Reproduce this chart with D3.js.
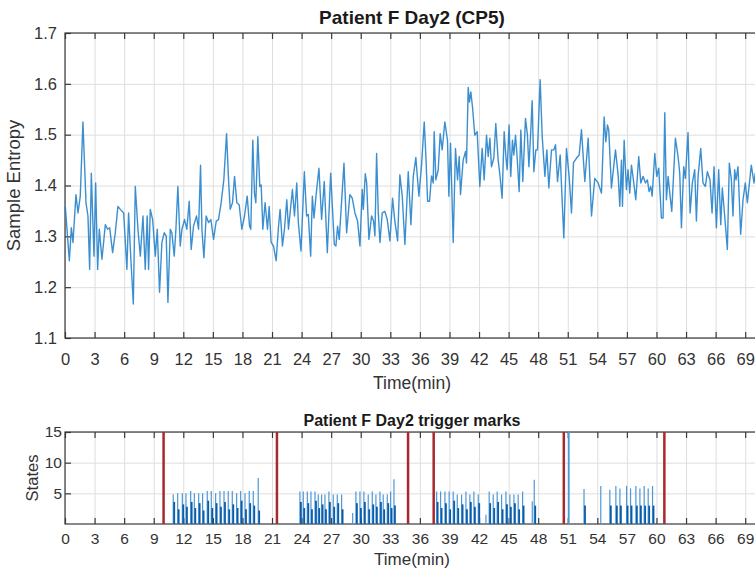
<!DOCTYPE html>
<html>
<head>
<meta charset="utf-8">
<script src="https://cdn.jsdelivr.net/npm/d3@7"></script>
<style>
  body { margin: 0; background: #fff; }
  text { font-family: "Liberation Sans", Arial, sans-serif; fill: #333; }
  .title { font-weight: bold; fill: #1a1a1a; }
  .grid line { stroke: #dedede; stroke-width: 1; }
  .grid .domain { display: none; }
  .axis .domain { display: none; }
  .axis line { stroke: #3a3a3a; stroke-width: 1.2; }
</style>
</head>
<body>
<div id="chart"></div>
<script>
// ---- data ----
const timeTicks = [0, 3, 6, 9, 12, 15, 18, 21, 24, 27, 30, 33, 36, 39, 42, 45, 48, 51, 54, 57, 60, 63, 66, 69]
const entropyTicks = [1.1, 1.2, 1.3, 1.4, 1.5, 1.6, 1.7]
const stateTicks = [5, 10, 15]

// [minute, sample entropy]
const sampleEntropy = [
  [0.03,1.359],[0.44,1.252],[0.64,1.317],[0.81,1.288],[1.11,1.382],[1.32,1.346],[1.55,1.379],[1.82,1.525],
  [2.13,1.366],[2.33,1.340],[2.50,1.235],[2.67,1.424],[2.94,1.261],[3.11,1.405],[3.31,1.235],[3.48,1.314],
  [3.75,1.255],[4.09,1.323],[4.32,1.314],[4.53,1.317],[4.83,1.268],[5.10,1.307],[5.37,1.359],[5.61,1.353],
  [5.95,1.346],[6.28,1.235],[6.45,1.346],[6.69,1.252],[6.93,1.167],[7.13,1.398],[7.40,1.314],[7.64,1.261],
  [7.91,1.340],[8.14,1.235],[8.34,1.340],[8.48,1.235],[8.65,1.353],[8.89,1.333],[9.16,1.261],[9.36,1.314],
  [9.59,1.190],[9.83,1.288],[10.07,1.307],[10.27,1.301],[10.44,1.170],[10.68,1.314],[10.84,1.307],[11.08,1.261],
  [11.25,1.314],[11.45,1.398],[11.69,1.281],[11.86,1.314],[12.13,1.333],[12.36,1.314],[12.60,1.369],[12.80,1.274],
  [13.04,1.320],[13.34,1.340],[13.55,1.314],[13.75,1.440],[13.89,1.314],[14.09,1.258],[14.32,1.340],[14.56,1.327],
  [14.80,1.333],[15.07,1.294],[15.34,1.330],[15.57,1.333],[15.84,1.366],[16.11,1.411],[16.39,1.502],[16.59,1.411],
  [16.76,1.353],[16.99,1.366],[17.20,1.418],[17.43,1.366],[17.67,1.362],[17.94,1.314],[18.21,1.340],[18.48,1.379],
  [18.72,1.320],[18.85,1.314],[19.05,1.489],[19.22,1.385],[19.36,1.366],[19.56,1.496],[19.76,1.398],[19.90,1.401],
  [20.07,1.314],[20.30,1.366],[20.54,1.314],[20.71,1.359],[20.91,1.288],[21.15,1.281],[21.42,1.252],[21.66,1.320],
  [21.82,1.353],[22.06,1.281],[22.26,1.314],[22.50,1.372],[22.67,1.314],[22.87,1.353],[23.07,1.392],[23.28,1.340],
  [23.51,1.405],[23.67,1.327],[23.94,1.271],[24.28,1.427],[24.51,1.340],[24.68,1.343],[24.92,1.261],[25.09,1.379],
  [25.26,1.336],[25.46,1.379],[25.76,1.434],[26.03,1.333],[26.30,1.408],[26.61,1.268],[26.95,1.424],[27.32,1.284],
  [27.48,1.281],[27.65,1.320],[27.82,1.294],[28.30,1.444],[28.57,1.307],[28.90,1.382],[29.14,1.375],[29.41,1.346],
  [29.68,1.330],[29.92,1.281],[30.15,1.392],[30.26,1.353],[30.46,1.423],[30.60,1.405],[30.83,1.294],[31.10,1.340],
  [31.30,1.330],[31.44,1.301],[31.61,1.463],[31.78,1.346],[31.95,1.288],[32.18,1.346],[32.45,1.349],[32.69,1.333],
  [32.96,1.291],[33.23,1.375],[33.46,1.330],[33.74,1.291],[33.97,1.421],[34.21,1.379],[34.48,1.284],[34.82,1.427],
  [35.09,1.323],[35.33,1.418],[35.59,1.455],[35.90,1.379],[36.17,1.440],[36.44,1.525],[36.61,1.457],[36.78,1.369],
  [36.98,1.369],[37.18,1.419],[37.35,1.405],[37.45,1.506],[37.62,1.411],[37.86,1.431],[38.06,1.502],[38.26,1.470],
  [38.53,1.525],[38.80,1.489],[38.94,1.379],[39.11,1.483],[39.38,1.288],[39.61,1.473],[39.82,1.411],[39.99,1.457],
  [40.12,1.382],[40.39,1.450],[40.63,1.467],[40.73,1.444],[40.90,1.593],[41.03,1.564],[41.17,1.584],[41.34,1.554],
  [41.57,1.499],[41.81,1.506],[42.08,1.398],[42.32,1.473],[42.52,1.411],[42.76,1.499],[42.93,1.457],[43.10,1.493],
  [43.26,1.437],[43.50,1.454],[43.70,1.522],[43.94,1.450],[44.10,1.424],[44.34,1.375],[44.55,1.506],[44.72,1.457],
  [44.85,1.431],[45.05,1.519],[45.22,1.418],[45.39,1.489],[45.53,1.460],[45.70,1.499],[45.86,1.457],[46.07,1.388],
  [46.24,1.509],[46.44,1.408],[46.71,1.532],[46.91,1.499],[47.06,1.437],[47.22,1.496],[47.39,1.567],[47.56,1.427],
  [47.76,1.470],[47.93,1.470],[48.20,1.608],[48.41,1.496],[48.68,1.418],[48.88,1.470],[49.08,1.395],[49.35,1.470],
  [49.59,1.470],[49.76,1.480],[49.96,1.408],[50.23,1.460],[50.60,1.297],[50.87,1.473],[51.14,1.418],[51.38,1.346],
  [51.58,1.445],[51.89,1.454],[52.16,1.460],[52.39,1.510],[52.73,1.408],[53.07,1.493],[53.41,1.340],[53.74,1.414],
  [54.08,1.405],[54.42,1.385],[54.69,1.535],[54.86,1.486],[55.03,1.519],[55.16,1.509],[55.43,1.395],[55.84,1.470],
  [56.11,1.421],[56.28,1.359],[56.45,1.450],[56.55,1.359],[56.72,1.489],[56.95,1.392],[57.12,1.431],[57.29,1.385],
  [57.46,1.440],[57.66,1.411],[57.90,1.372],[58.20,1.457],[58.41,1.405],[58.64,1.418],[58.88,1.405],[59.08,1.411],
  [59.25,1.388],[59.42,1.398],[59.56,1.379],[59.83,1.463],[60.03,1.418],[60.23,1.434],[60.50,1.336],[60.67,1.336],
  [60.84,1.543],[61.01,1.372],[61.18,1.418],[61.35,1.385],[61.55,1.349],[61.92,1.493],[62.19,1.457],[62.36,1.424],
  [62.53,1.317],[62.76,1.437],[62.93,1.414],[63.20,1.504],[63.41,1.346],[63.64,1.405],[63.88,1.431],[64.05,1.330],
  [64.22,1.418],[64.49,1.473],[64.72,1.405],[64.96,1.398],[65.16,1.427],[65.43,1.411],[65.64,1.346],[65.84,1.437],
  [66.08,1.317],[66.31,1.431],[66.52,1.323],[66.68,1.395],[66.92,1.340],[67.19,1.274],[67.39,1.444],[67.60,1.411],
  [67.76,1.340],[67.93,1.431],[68.07,1.411],[68.27,1.437],[68.54,1.304],[68.78,1.372],[69.01,1.405],[69.22,1.366],
  [69.39,1.398],[69.62,1.440],[69.89,1.405],[70.02,1.424],[70.25,1.430]
]

// trigger marks (minutes)
const triggerTimes = [10.0, 21.5, 34.8, 37.4, 50.6, 60.8]

// state spikes: time, peak state, dense lower level
const stateTimes = [
  10.98, 11.43, 11.90, 12.27, 12.75, 13.12, 13.56, 13.96, 14.43, 14.84, 15.28, 15.72, 16.13, 16.56, 16.97, 17.41, 17.82, 18.26, 18.69, 19.10, 19.60,
  23.83, 24.17, 24.58, 24.95, 25.36, 25.69, 26.03, 26.37, 26.77, 27.21, 27.62, 28.06,
  29.18, 29.51, 29.92, 30.32, 30.76, 31.17, 31.54, 31.95, 32.28, 32.69, 33.03, 33.37,
  37.70, 38.10, 38.54, 38.97, 39.38, 39.79, 40.23, 40.67, 41.07, 41.48, 41.92, 42.70, 43.03, 43.44, 43.84, 44.29, 44.73, 45.13, 45.54, 45.97, 46.42,
  47.40, 47.60,
  51.10,
  52.65, 54.35, 55.27, 55.88, 56.29, 56.97, 57.37, 57.91, 58.32, 58.75, 59.16, 59.60
]
const statePeaks = [
  4.8, 5.0, 5.0, 5.0, 5.4, 5.0, 5.0, 5.0, 5.4, 5.4, 5.0, 5.4, 5.4, 5.4, 5.4, 5.0, 5.4, 5.0, 5.4, 5.4, 7.5,
  5.3, 5.3, 5.3, 5.3, 5.3, 4.8, 4.8, 4.8, 5.3, 4.8, 4.8, 4.8,
  1.8, 5.3, 5.3, 5.3, 4.8, 5.3, 4.8, 5.3, 4.8, 4.8, 5.3, 7.3,
  5.3, 5.3, 5.3, 5.3, 5.3, 4.8, 4.8, 5.3, 4.8, 5.3, 4.8, 1.5, 5.3, 4.8, 5.3, 4.8, 5.3, 4.8, 4.8, 4.8, 5.3,
  3.7, 7.2,
  15,
  5.7, 6.2, 5.6, 6.2, 5.8, 6.2, 5.8, 6.2, 5.8, 6.2, 5.8, 6.2
]
const stateLows = [
  3.6, 2.4, 3.2, 2.8, 3.6, 2.6, 3.4, 2.2, 3.8, 2.6, 3.4, 2.8, 3.6, 2.4, 3.2, 2.6, 3.8, 2.4, 3.4, 3.0, 2.2,
  3.6, 2.6, 3.4, 2.4, 3.8, 2.6, 3.2, 2.4, 3.6, 2.8, 3.4, 2.4,
  0, 3.4, 2.6, 3.6, 2.4, 3.2, 2.8, 3.6, 2.4, 3.4, 2.6, 3.0,
  3.6, 2.6, 3.4, 2.4, 3.8, 2.6, 3.2, 2.4, 3.6, 2.8, 3.4, 0, 3.4, 2.6, 3.6, 2.4, 3.2, 2.8, 3.4, 2.4, 3.0,
  0, 3.0,
  0,
  3.0, 0, 3.0, 3.0, 3.0, 3.0, 3.0, 3.0, 3.0, 3.0, 3.0, 3.0
]

// ---- layout ----
const dimensions = {
  width: 755,
  height: 571,
  left: 65,
  plotWidth: 694,
  top: { y: 33, height: 305 },
  bottom: { y: 432, height: 92 },
}

const lineColor = "#2683cb"
const triggerColor = "#a8282f"

const svg = d3.select("#chart")
  .append("svg")
    .attr("width", dimensions.width)
    .attr("height", dimensions.height)

const xScale = d3.scaleLinear()
  .domain([0, 70.4])
  .range([0, dimensions.plotWidth])

const yEntropy = d3.scaleLinear()
  .domain([1.1, 1.7])
  .range([dimensions.top.height, 0])

const yStates = d3.scaleLinear()
  .domain([0, 15])
  .range([dimensions.bottom.height, 0])

// draws grid, inward ticks, labels and box for one axes
function drawFrame(g, yScale, yTicks, h, opts) {
  g.append("g").attr("class", "grid")
    .attr("transform", `translate(0,${h})`)
    .call(d3.axisBottom(xScale).tickValues(timeTicks).tickSize(-h).tickFormat(""))
  g.append("g").attr("class", "grid")
    .call(d3.axisLeft(yScale).tickValues(yTicks).tickSize(-dimensions.plotWidth).tickFormat(""))

  const xb = g.append("g").attr("class", "axis")
    .attr("transform", `translate(0,${h})`)
    .call(d3.axisBottom(xScale).tickValues(timeTicks)
      .tickSizeInner(-6).tickSizeOuter(0).tickPadding(opts.xPad).tickFormat(d3.format("d")))
  xb.selectAll("text").style("font-size", opts.font + "px")

  g.append("g").attr("class", "axis")
    .call(d3.axisTop(xScale).tickValues(timeTicks).tickSizeInner(-6).tickSizeOuter(0).tickFormat(""))

  const yl = g.append("g").attr("class", "axis")
    .call(d3.axisLeft(yScale).tickValues(yTicks)
      .tickSizeInner(-6).tickSizeOuter(0).tickPadding(opts.yPad).tickFormat(opts.yFormat))
  yl.selectAll("text").style("font-size", opts.font + "px")

  g.append("rect")
    .attr("width", dimensions.plotWidth)
    .attr("height", h)
    .attr("fill", "none")
    .attr("stroke", "#3a3a3a")
    .attr("stroke-width", 1.2)
}

// ---- upper panel: sample entropy ----
const entropyPanel = svg.append("g")
  .attr("transform", `translate(${dimensions.left},${dimensions.top.y})`)

drawFrame(entropyPanel, yEntropy, entropyTicks, dimensions.top.height,
  { xPad: 15, yPad: 8, font: 16.5, yFormat: d3.format(".1f") })

const entropyLine = d3.line()
  .x(d => xScale(d[0]))
  .y(d => yEntropy(d[1]))

entropyPanel.append("path")
  .attr("d", entropyLine(sampleEntropy))
  .attr("fill", "none")
  .attr("stroke", lineColor)
  .attr("stroke-width", 1.4)
  .attr("stroke-opacity", 0.9)
  .attr("stroke-linejoin", "round")

entropyPanel.append("text")
  .attr("class", "title")
  .attr("x", dimensions.plotWidth / 2)
  .attr("y", -9)
  .attr("text-anchor", "middle")
  .style("font-size", "19px")
  .text("Patient F Day2 (CP5)")

entropyPanel.append("text")
  .attr("x", dimensions.plotWidth / 2)
  .attr("y", dimensions.top.height + 51)
  .attr("text-anchor", "middle")
  .style("font-size", "17.5px")
  .text("Time(min)")

entropyPanel.append("text")
  .attr("transform", `translate(-45,${dimensions.top.height / 2}) rotate(-90)`)
  .attr("text-anchor", "middle")
  .style("font-size", "18.5px")
  .text("Sample Entropy")

// ---- lower panel: trigger marks ----
const statePanel = svg.append("g")
  .attr("transform", `translate(${dimensions.left},${dimensions.bottom.y})`)

drawFrame(statePanel, yStates, stateTicks, dimensions.bottom.height,
  { xPad: 9, yPad: 3, font: 15.5, yFormat: d3.format("d") })

const states = stateTimes.map((t, i) => ({ t, peak: statePeaks[i], low: stateLows[i] }))
const lowLag = 0.1

statePanel.selectAll(".state-peak")
  .data(states)
  .join("line")
    .attr("class", "state-peak")
    .attr("x1", d => xScale(d.t))
    .attr("x2", d => xScale(d.t))
    .attr("y1", yStates(0))
    .attr("y2", d => yStates(d.peak))
    .attr("stroke", "#4d98d8")
    .attr("stroke-width", d => d.peak > 10 ? 1.8 : 1.2)

statePanel.selectAll(".state-low")
  .data(states.filter(d => d.low > 0))
  .join("line")
    .attr("class", "state-low")
    .attr("x1", d => xScale(d.t + lowLag))
    .attr("x2", d => xScale(d.t + lowLag))
    .attr("y1", yStates(0))
    .attr("y2", d => yStates(d.low))
    .attr("stroke", "#0a5ca8")
    .attr("stroke-width", 1.8)

statePanel.selectAll(".trigger")
  .data(triggerTimes)
  .join("line")
    .attr("class", "trigger")
    .attr("x1", d => xScale(d))
    .attr("x2", d => xScale(d))
    .attr("y1", yStates(0))
    .attr("y2", yStates(15))
    .attr("stroke", triggerColor)
    .attr("stroke-width", 2.5)

statePanel.append("text")
  .attr("class", "title")
  .attr("x", dimensions.plotWidth / 2)
  .attr("y", -6)
  .attr("text-anchor", "middle")
  .style("font-size", "16px")
  .text("Patient F Day2 trigger marks")

statePanel.append("text")
  .attr("x", dimensions.plotWidth / 2)
  .attr("y", dimensions.bottom.height + 41)
  .attr("text-anchor", "middle")
  .style("font-size", "17px")
  .text("Time(min)")

statePanel.append("text")
  .attr("transform", `translate(-27,${dimensions.bottom.height / 2}) rotate(-90)`)
  .attr("text-anchor", "middle")
  .style("font-size", "16.5px")
  .text("States")
</script>
</body>
</html>
